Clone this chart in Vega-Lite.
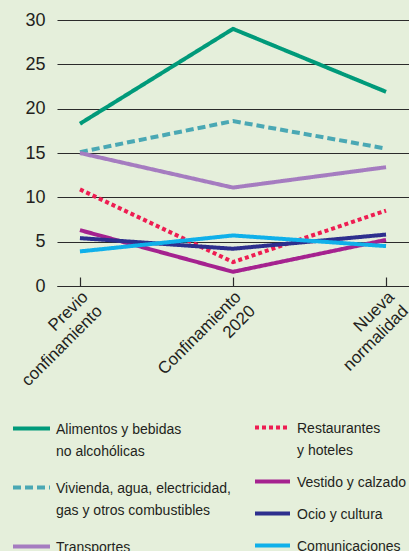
{
  "$schema": "https://vega.github.io/schema/vega-lite/v6.json",
  "width": 352,
  "height": 266,
  "autosize": {"type": "none"},
  "padding": {"left": 57, "top": 20, "right": 0, "bottom": 265},
  "background": "#e5efdb",
  "config": {"view": {"stroke": null}, "font": "Liberation Sans"},
  "data": {
    "values": [
      {"grupo": "Alimentos y bebidas no alcohólicas", "periodo": "Previo confinamiento", "valor": 18.3},
      {"grupo": "Alimentos y bebidas no alcohólicas", "periodo": "Confinamiento 2020", "valor": 29.0},
      {"grupo": "Alimentos y bebidas no alcohólicas", "periodo": "Nueva normalidad", "valor": 21.9},
      {"grupo": "Vivienda, agua, electricidad, gas y otros combustibles", "periodo": "Previo confinamiento", "valor": 15.1},
      {"grupo": "Vivienda, agua, electricidad, gas y otros combustibles", "periodo": "Confinamiento 2020", "valor": 18.6},
      {"grupo": "Vivienda, agua, electricidad, gas y otros combustibles", "periodo": "Nueva normalidad", "valor": 15.5},
      {"grupo": "Transportes", "periodo": "Previo confinamiento", "valor": 15.0},
      {"grupo": "Transportes", "periodo": "Confinamiento 2020", "valor": 11.1},
      {"grupo": "Transportes", "periodo": "Nueva normalidad", "valor": 13.4},
      {"grupo": "Restaurantes y hoteles", "periodo": "Previo confinamiento", "valor": 10.9},
      {"grupo": "Restaurantes y hoteles", "periodo": "Confinamiento 2020", "valor": 2.7},
      {"grupo": "Restaurantes y hoteles", "periodo": "Nueva normalidad", "valor": 8.5},
      {"grupo": "Vestido y calzado", "periodo": "Previo confinamiento", "valor": 6.3},
      {"grupo": "Vestido y calzado", "periodo": "Confinamiento 2020", "valor": 1.6},
      {"grupo": "Vestido y calzado", "periodo": "Nueva normalidad", "valor": 5.2},
      {"grupo": "Ocio y cultura", "periodo": "Previo confinamiento", "valor": 5.4},
      {"grupo": "Ocio y cultura", "periodo": "Confinamiento 2020", "valor": 4.2},
      {"grupo": "Ocio y cultura", "periodo": "Nueva normalidad", "valor": 5.8},
      {"grupo": "Comunicaciones", "periodo": "Previo confinamiento", "valor": 3.9},
      {"grupo": "Comunicaciones", "periodo": "Confinamiento 2020", "valor": 5.7},
      {"grupo": "Comunicaciones", "periodo": "Nueva normalidad", "valor": 4.5}
    ]
  },
  "encoding": {
    "x": {
      "field": "periodo",
      "type": "ordinal",
      "sort": ["Previo confinamiento", "Confinamiento 2020", "Nueva normalidad"],
      "scale": {"type": "point", "padding": 0.15},
      "axis": {
        "title": null,
        "labelAngle": -45,
        "labelAlign": "right",
        "labelBaseline": "middle",
        "labelExpr": "split(datum.label, ' ')",
        "labelFont": "Liberation Sans",
        "labelFontSize": 17,
        "labelLineHeight": 20,
        "labelColor": "#231f20",
        "labelPadding": 17,
        "labelOffset": 5,
        "labelOverlap": false,
        "tickSize": -9,
        "tickColor": "#2b2b2b",
        "tickWidth": 1.2,
        "domainColor": "#2b2b2b",
        "domainWidth": 1.2,
        "grid": false
      }
    },
    "y": {
      "field": "valor",
      "type": "quantitative",
      "scale": {"domain": [0, 30]},
      "axis": {
        "title": null,
        "values": [0, 5, 10, 15, 20, 25, 30],
        "domain": false,
        "ticks": false,
        "grid": true,
        "gridColor": "#2b2b2b",
        "gridWidth": 1.2,
        "labelFont": "Liberation Sans",
        "labelFontSize": 18,
        "labelColor": "#231f20",
        "labelPadding": 12
      }
    }
  },
  "layer": [
    {
      "transform": [{"filter": {"field": "grupo", "oneOf": ["Alimentos y bebidas no alcohólicas", "Vivienda, agua, electricidad, gas y otros combustibles", "Transportes"]}}],
      "mark": {"type": "line", "strokeWidth": 4, "strokeCap": "butt"},
      "encoding": {
        "color": {
          "field": "grupo",
          "type": "nominal",
          "scale": {
            "domain": ["Alimentos y bebidas no alcohólicas", "Vivienda, agua, electricidad, gas y otros combustibles", "Transportes"],
            "range": ["#009a7a", "#4aa8b4", "#a57cc0"]
          },
          "legend": {
            "orient": "none",
            "legendX": -46,
            "legendY": 388,
            "direction": "vertical",
            "columns": 1,
            "title": null,
            "padding": 0,
            "symbolType": "stroke",
            "symbolSize": 1369,
            "symbolStrokeWidth": 4,
            "labelFont": "Liberation Sans",
            "labelFontSize": 14,
            "labelColor": "#231f20",
            "labelOffset": 4,
            "labelLimit": 300,
            "labelBaseline": "top",
            "rowPadding": 8,
            "labelExpr": "datum.label == 'Alimentos y bebidas no alcohólicas' ? ['Alimentos y bebidas', 'no alcohólicas'] : datum.label == 'Vivienda, agua, electricidad, gas y otros combustibles' ? ['Vivienda, agua, electricidad,', 'gas y otros combustibles'] : datum.label",
            "encode": {"labels": {"update": {"lineHeight": {"value": 22}, "dy": {"value": -6}}}}
          }
        },
        "strokeDash": {
          "field": "grupo",
          "type": "nominal",
          "scale": {
            "domain": ["Alimentos y bebidas no alcohólicas", "Vivienda, agua, electricidad, gas y otros combustibles", "Transportes"],
            "range": [[1, 0], [8, 4], [1, 0]]
          },
          "legend": null
        }
      }
    },
    {
      "transform": [{"filter": {"field": "grupo", "oneOf": ["Restaurantes y hoteles", "Vestido y calzado", "Ocio y cultura", "Comunicaciones"]}}],
      "mark": {"type": "line", "strokeWidth": 4, "strokeCap": "butt"},
      "encoding": {
        "color": {
          "field": "grupo",
          "type": "nominal",
          "scale": {
            "domain": ["Restaurantes y hoteles", "Vestido y calzado", "Ocio y cultura", "Comunicaciones"],
            "range": ["#ee1d52", "#a5228f", "#2d2f8e", "#0fb0ea"]
          },
          "legend": {
            "orient": "none",
            "legendX": 196,
            "legendY": 388,
            "direction": "vertical",
            "columns": 1,
            "title": null,
            "padding": 0,
            "symbolType": "stroke",
            "symbolSize": 1225,
            "symbolStrokeWidth": 4,
            "labelFont": "Liberation Sans",
            "labelFontSize": 14,
            "labelColor": "#231f20",
            "labelOffset": 5,
            "labelLimit": 300,
            "labelBaseline": "top",
            "rowPadding": 4,
            "labelExpr": "datum.label == 'Restaurantes y hoteles' ? ['Restaurantes', 'y hoteles'] : datum.label",
            "encode": {"labels": {"update": {"lineHeight": {"value": 22}, "dy": {"value": -6}}}}
          }
        },
        "strokeDash": {
          "field": "grupo",
          "type": "nominal",
          "scale": {
            "domain": ["Restaurantes y hoteles", "Vestido y calzado", "Ocio y cultura", "Comunicaciones"],
            "range": [[4, 3], [1, 0], [1, 0], [1, 0]]
          },
          "legend": null
        }
      }
    }
  ],
  "resolve": {"scale": {"color": "independent", "strokeDash": "independent"}}
}
